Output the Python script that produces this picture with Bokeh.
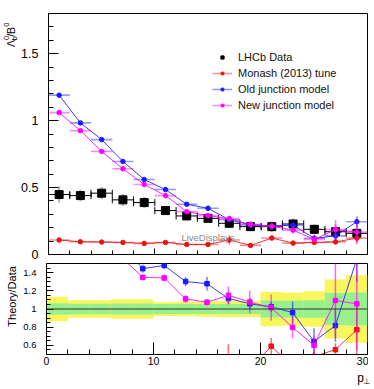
import numpy as np
from bokeh.plotting import figure
from bokeh.layouts import column, row
from bokeh.models import (ColumnDataSource, FixedTicker, Label, Legend, LegendItem,
                          Whisker, TeeHead, Range1d, Span, CustomJSTickFormatter)
from bokeh.embed import file_html
from bokeh.resources import INLINE

# ---------------- data ----------------
pt_centers = [1, 3, 5, 7, 9, 11, 13, 15, 17, 19, 21, 23, 25, 27, 29]
pt_halfwidth = [1] * 15

lhcb_vals = [0.448, 0.440, 0.458, 0.408, 0.388, 0.328, 0.288, 0.270, 0.233, 0.208,
             0.208, 0.228, 0.188, 0.170, 0.158]
lhcb_tot_rel = [0.135, 0.097, 0.097, 0.108, 0.108, 0.078, 0.080, 0.085, 0.088, 0.088,
                0.190, 0.180, 0.195, 0.325, 0.370]
lhcb_stat_rel = [0.062, 0.058, 0.058, 0.060, 0.060, 0.055, 0.055, 0.055, 0.055, 0.055,
                 0.094, 0.094, 0.097, 0.175, 0.180]

monash_vals = [0.108, 0.095, 0.093, 0.090, 0.083, 0.090, 0.075, 0.075, 0.108, 0.068,
               0.123, 0.085, 0.090, 0.094, 0.122]
monash_errs = [0.004, 0.004, 0.004, 0.004, 0.004, 0.004, 0.004, 0.004, 0.035, 0.008,
               0.019, 0.010, 0.010, 0.012, 0.045]

old_vals = [1.190, 0.983, 0.858, 0.695, 0.560, 0.485, 0.375, 0.345, 0.260, 0.220,
            0.213, 0.219, 0.121, 0.139, 0.245]
old_errs = [0.010, 0.010, 0.010, 0.010, 0.017, 0.013, 0.014, 0.020, 0.015, 0.013,
            0.011, 0.028, 0.027, 0.030, 0.040]

new_vals = [1.060, 0.925, 0.770, 0.640, 0.523, 0.440, 0.320, 0.290, 0.268, 0.224,
            0.211, 0.182, 0.113, 0.186, 0.167]
new_errs = [0.010, 0.010, 0.010, 0.010, 0.012, 0.012, 0.012, 0.010, 0.023, 0.026,
            0.030, 0.027, 0.020, 0.070, 0.080]

series_names = ["Monash (2013) tune", "Old junction model", "New junction model"]
series_colors = ["#ee1111", "#1a1aff", "#ff00ff"]

x_major = [0, 10, 20, 30]
top_y_major = [0, 0.5, 1, 1.5]
ratio_y_major = [0.6, 0.8, 1.0, 1.2, 1.4]

FONT = "Liberation Sans"

x = np.array(pt_centers, float)
hw = np.array(pt_halfwidth, float)
d = np.array(lhcb_vals)
tot = np.array(lhcb_tot_rel)
stat = np.array(lhcb_stat_rel)

fmt = CustomJSTickFormatter(code="return String(Math.round(tick*100)/100)")
blank_fmt = CustomJSTickFormatter(code="return ''")

TITLE_W = 18
MAIN_W = 350
TOP_H = 263
BOT_H = 105
STRIP_H = 17
STRIP_W = 372


def style(p, ylab_size, xlab_size, y_tick_in, y_minor_in, x_tick_in, x_minor_in, show_x_labels):
    p.xgrid.visible = False
    p.ygrid.visible = False
    p.outline_line_color = "black"
    p.outline_line_width = 1
    p.background_fill_color = "white"
    p.border_fill_color = "white"
    for ax in (p.xaxis[0], p.yaxis[0]):
        ax.axis_line_color = "black"
        ax.major_tick_line_color = "black"
        ax.minor_tick_line_color = "black"
        ax.major_tick_out = 0
        ax.minor_tick_out = 0
        ax.formatter = fmt
        ax.major_label_text_font = FONT
        ax.major_label_text_color = "black"
    p.yaxis[0].major_tick_in = y_tick_in
    p.yaxis[0].minor_tick_in = y_minor_in
    p.xaxis[0].major_tick_in = x_tick_in
    p.xaxis[0].minor_tick_in = x_minor_in
    p.yaxis[0].major_label_text_font_size = ylab_size
    if show_x_labels:
        p.xaxis[0].major_label_text_font_size = xlab_size
        p.xaxis[0].major_label_standoff = 2
    else:
        p.xaxis[0].formatter = blank_fmt
        p.xaxis[0].major_label_text_font_size = "1px"
        p.xaxis[0].major_label_standoff = 0


def blank_fig(w, h):
    f = figure(width=w, height=h, x_range=Range1d(0, w), y_range=Range1d(0, h),
               output_backend="svg", toolbar_location=None,
               x_axis_location=None, y_axis_location=None,
               min_border_left=0, min_border_right=0, min_border_top=0, min_border_bottom=0)
    f.xgrid.visible = False
    f.ygrid.visible = False
    f.outline_line_color = None
    f.background_fill_color = "white"
    f.border_fill_color = "white"
    return f


# ---------------- top panel ----------------
top = figure(width=MAIN_W, height=TOP_H, x_range=Range1d(0, 30), y_range=Range1d(0, 1.8),
             output_backend="svg", toolbar_location=None,
             min_border_left=28, min_border_right=1, min_border_top=13, min_border_bottom=9)
style(top, "12.5px", "0px", 10, 5, 6, 4, False)
top.yaxis[0].ticker = FixedTicker(ticks=top_y_major, minor_ticks=[round(0.1 * i, 2) for i in range(19)])
top.xaxis[0].ticker = FixedTicker(ticks=x_major, minor_ticks=list(range(0, 31, 2)))
top.yaxis[0].major_label_standoff = 10

dsrc = ColumnDataSource(dict(x=x, xlo=x - hw, xhi=x + hw, y=d,
                             ylo=d * (1 - tot), yhi=d * (1 + tot)))
top.segment(x0="x", y0="ylo", x1="x", y1="yhi", source=dsrc, line_color="#b0b0b0", line_width=2)
wh = Whisker(source=dsrc, base="y", lower="xlo", upper="xhi", dimension="width",
             line_color="black", line_width=1,
             lower_head=TeeHead(size=7, line_color="black", line_width=1),
             upper_head=TeeHead(size=7, line_color="black", line_width=1))
top.add_layout(wh)
data_r = top.scatter("x", "y", source=dsrc, marker="square", size=8, color="black")

legend_items = [LegendItem(label="LHCb Data", renderers=[data_r])]

model_sources = []
for name, col, vals, errs in zip(series_names, series_colors,
                                 [monash_vals, old_vals, new_vals],
                                 [monash_errs, old_errs, new_errs]):
    v = np.array(vals)
    e = np.array(errs)
    s = ColumnDataSource(dict(x=x, xlo=x - hw, xhi=x + hw, y=v, ylo=v - e, yhi=v + e,
                              r=v / d, rlo=(v - e) / d, rhi=(v + e) / d))
    model_sources.append((s, col, name))
    hb = top.segment(x0="xlo", y0="y", x1="xhi", y1="y", source=s, line_color=col,
                     line_alpha=0.45, line_width=1.6)
    top.segment(x0="x", y0="ylo", x1="x", y1="yhi", source=s, line_color=col,
                line_alpha=0.55, line_width=1.5)
    top.line("x", "y", source=s, line_color=col, line_width=1, line_alpha=0.85)
    mk = top.scatter("x", "y", source=s, marker="circle", size=4.5, color=col)
    legend_items.append(LegendItem(label=name, renderers=[hb, mk]))

legend = Legend(items=legend_items, location=(164, 142), glyph_width=20, glyph_height=8,
                label_height=14, label_standoff=6, spacing=2, padding=0, margin=0,
                border_line_color=None, background_fill_alpha=0,
                label_text_font=FONT, label_text_font_size="11px", label_text_color="#111111")
top.add_layout(legend)

top.add_layout(Label(x=12.5, y=0.125, text="LiveDisplays", text_font=FONT,
                     text_font_size="9.5px", text_color="#8a8a8a",
                     text_align="left", text_baseline="middle"))

# y-axis title  Λ_b^0 / B^0  (rotated), in a narrow side strip (pixel coordinates)
top_title = blank_fig(TITLE_W, TOP_H)
ylab_parts = [
    ("Λ", 10.0, TOP_H - 36.5, "10.5px"),
    ("b", 13.8, TOP_H - 29.5, "7.5px"),
    ("0", 6.0, TOP_H - 29.0, "7.5px"),
    ("/B", 10.0, TOP_H - 25.5, "10.5px"),
    ("0", 6.0, TOP_H - 14.5, "7.5px"),
]
for txt, lx, ly, fs in ylab_parts:
    top_title.add_layout(Label(x=lx, y=ly, text=txt, angle=np.pi / 2, text_align="left",
                               text_baseline="middle", text_font=FONT, text_font_size=fs,
                               text_color="black"))

# ---------------- ratio panel ----------------
bot = figure(width=MAIN_W, height=BOT_H, x_range=top.x_range, y_range=Range1d(0.5, 1.5),
             output_backend="svg", toolbar_location=None,
             min_border_left=28, min_border_right=1, min_border_top=0, min_border_bottom=14)
style(bot, "9.5px", "10.5px", 7, 4, 12, 5, True)
bot.yaxis[0].ticker = FixedTicker(ticks=ratio_y_major,
                                  minor_ticks=[round(0.5 + 0.05 * i, 2) for i in range(21)])
bot.xaxis[0].ticker = FixedTicker(ticks=x_major, minor_ticks=list(range(0, 31, 2)))
bot.yaxis[0].major_label_standoff = 10

bsrc = ColumnDataSource(dict(xlo=x - hw, xhi=x + hw, tlo=1 - tot, thi=1 + tot,
                             slo=1 - stat, shi=1 + stat))
bot.quad(left="xlo", right="xhi", bottom="tlo", top="thi", source=bsrc,
         fill_color="#f8f65a", line_color=None)
bot.quad(left="xlo", right="xhi", bottom="slo", top="shi", source=bsrc,
         fill_color="#98f08c", line_color=None)
bot.add_layout(Span(location=1.0, dimension="width", line_color="#333333", line_width=1.2))

for s, col, name in model_sources:
    bot.segment(x0="x", y0="rlo", x1="x", y1="rhi", source=s, line_color=col,
                line_alpha=0.6, line_width=1.5)
    bot.line("x", "r", source=s, line_color=col, line_width=1, line_alpha=0.85)
    bot.scatter("x", "r", source=s, marker="square", size=4.5, color=col)

bot_title = blank_fig(TITLE_W, BOT_H)
bot_title.add_layout(Label(x=11.5, y=BOT_H - 38, text="Theory/Data", angle=np.pi / 2,
                           text_align="center", text_baseline="middle", text_font=FONT,
                           text_font_size="11px", text_color="black"))

# x-axis title p⊥ strip
strip = blank_fig(STRIP_W, STRIP_H)
strip.add_layout(Label(x=360, y=STRIP_H - 9, text="p", text_align="center",
                       text_baseline="middle", text_font=FONT, text_font_size="12px",
                       text_color="black"))
strip.add_layout(Label(x=366.5, y=STRIP_H - 13, text="⊥", text_align="center",
                       text_baseline="middle", text_font="DejaVu Sans", text_font_size="8px",
                       text_color="black"))

layout = column(row(top_title, top), row(bot_title, bot), strip)
open("out.html", "w").write(file_html(layout, INLINE))
